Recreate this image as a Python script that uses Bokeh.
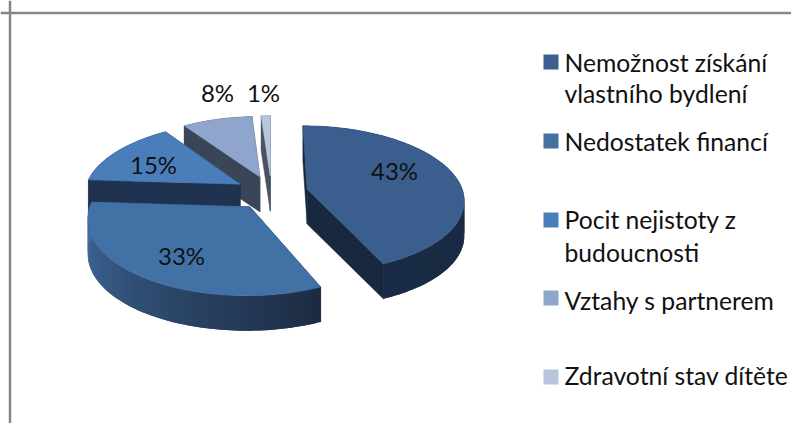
import numpy as np
from bokeh.plotting import figure
from bokeh.models import Range1d, Span
from bokeh.core.properties import value
from bokeh.embed import file_html
from bokeh.resources import INLINE

# ---- data
shares = [43.4, 32.6, 14.5, 8.4, 1.1]
share_labels = ["43%", "33%", "15%", "8%", "1%"]
legend_lines = [["Nemožnost získání", "vlastního bydlení"], ["Nedostatek financí"],
                ["Pocit nejistoty z", "budoucnosti"], ["Vztahy s partnerem"], ["Zdravotní stav dítěte"]]

# ---- colours
top_colors = ["#3a5f8f", "#4271a6", "#4a7ebb", "#8fa5cc", "#b7c5df"]
side_colors = ["#17283f", "#1f3350", "#1f3350", "#3a4558", "#4a5260"]
wall_from = ["#17283f", "#1c2b42", "#1f3350", "#3a4558", "#4a5260"]
wall_to = ["#1a2c45", "#436fa2", "#1f3350", "#3a4558", "#4a5260"]
swatch_colors = ["#3d5f8f", "#44719f", "#4a7ebb", "#8fa5cc", "#b7c5df"]

# ---- layout (picture pixels)
W, H = 791, 423
CX, CY, R, K, PERSP, DEPTH, EXPLODE = 271.0, 192.0, 156.0, 72.6, 0.135, 35.0, 0.235
LABEL_X = [394, 181, 153, 217, 263]
LABEL_Y = [170, 255, 164, 92, 92]
SWATCH_Y = [61.5, 140.5, 219.5, 297.5, 376.5]
LINE_Y = [[62, 93], [141], [219, 252], [300], [375]]

p = figure(width=W, height=H, toolbar_location=None, output_backend="svg",
           x_range=Range1d(0, W), y_range=Range1d(H, 0),
           x_axis_type=None, y_axis_type=None, min_border=0, outline_line_color=None)
p.xgrid.visible = False
p.ygrid.visible = False

p.add_layout(Span(location=12.5, dimension="width", line_color="#868686", line_width=2.5))
p.add_layout(Span(location=9.5, dimension="height", line_color="#868686", line_width=2.5))


def project(u, v):
    s = 1.0 / (1.0 + PERSP * v)
    return CX + R * u * s, CY - K * v * s


def mix(a, b, t):
    ca = [int(a[i:i + 2], 16) for i in (1, 3, 5)]
    cb = [int(b[i:i + 2], 16) for i in (1, 3, 5)]
    return "#%02x%02x%02x" % tuple(int(round(x + (y - x) * t)) for x, y in zip(ca, cb))


def fill(xs, ys, color, stroke=True):
    p.patch(list(xs), list(ys), fill_color=color, line_color=color if stroke else None, line_width=0.6)


edges = np.cumsum([0] + shares) / sum(shares) * 2 * np.pi
for i in [4, 3, 2, 0, 1]:
    a0, a1 = edges[i], edges[i + 1]
    mid = (a0 + a1) / 2
    ou, ov = EXPLODE * np.sin(mid), EXPLODE * np.cos(mid)
    th = np.linspace(a0, a1, max(3, int((a1 - a0) / np.radians(1.5)) + 1))
    ax, ay = project(ou, ov)
    ex, ey = project(ou + np.sin(th), ov + np.cos(th))
    # radial walls
    fill([ax, ex[0], ex[0], ax], [ay, ey[0], ey[0] + DEPTH, ay + DEPTH], side_colors[i])
    fill([ax, ex[-1], ex[-1], ax], [ay, ey[-1], ey[-1] + DEPTH, ay + DEPTH], side_colors[i])
    # outer wall, in shaded strips, each reaching under the next so no seam shows
    n = len(th)
    for j in range(n - 1):
        t = j / max(1, n - 2)
        k = min(j + 2, n - 1)
        fill([*ex[j:k + 1], *ex[j:k + 1][::-1]],
             [*ey[j:k + 1], *(ey[j:k + 1][::-1] + DEPTH)],
             mix(wall_from[i], wall_to[i], t), stroke=False)
    # top face
    fill([ax, *ex], [ay, *ey], top_colors[i])

p.text(LABEL_X, LABEL_Y, text=share_labels, text_font=value("Lato"), text_font_size="24px",
       text_color="#111111", text_align="center", text_baseline="middle")

for i, lines in enumerate(legend_lines):
    p.quad(left=543, right=558, top=SWATCH_Y[i] - 7.5, bottom=SWATCH_Y[i] + 7.5,
           fill_color=swatch_colors[i], line_color=None)
    p.text([564] * len(lines), LINE_Y[i], text=lines, text_font=value("Lato"),
           text_font_size="24.7px", text_color="#111111", text_align="left", text_baseline="middle")

open("out.html", "w").write(file_html(p, INLINE))
